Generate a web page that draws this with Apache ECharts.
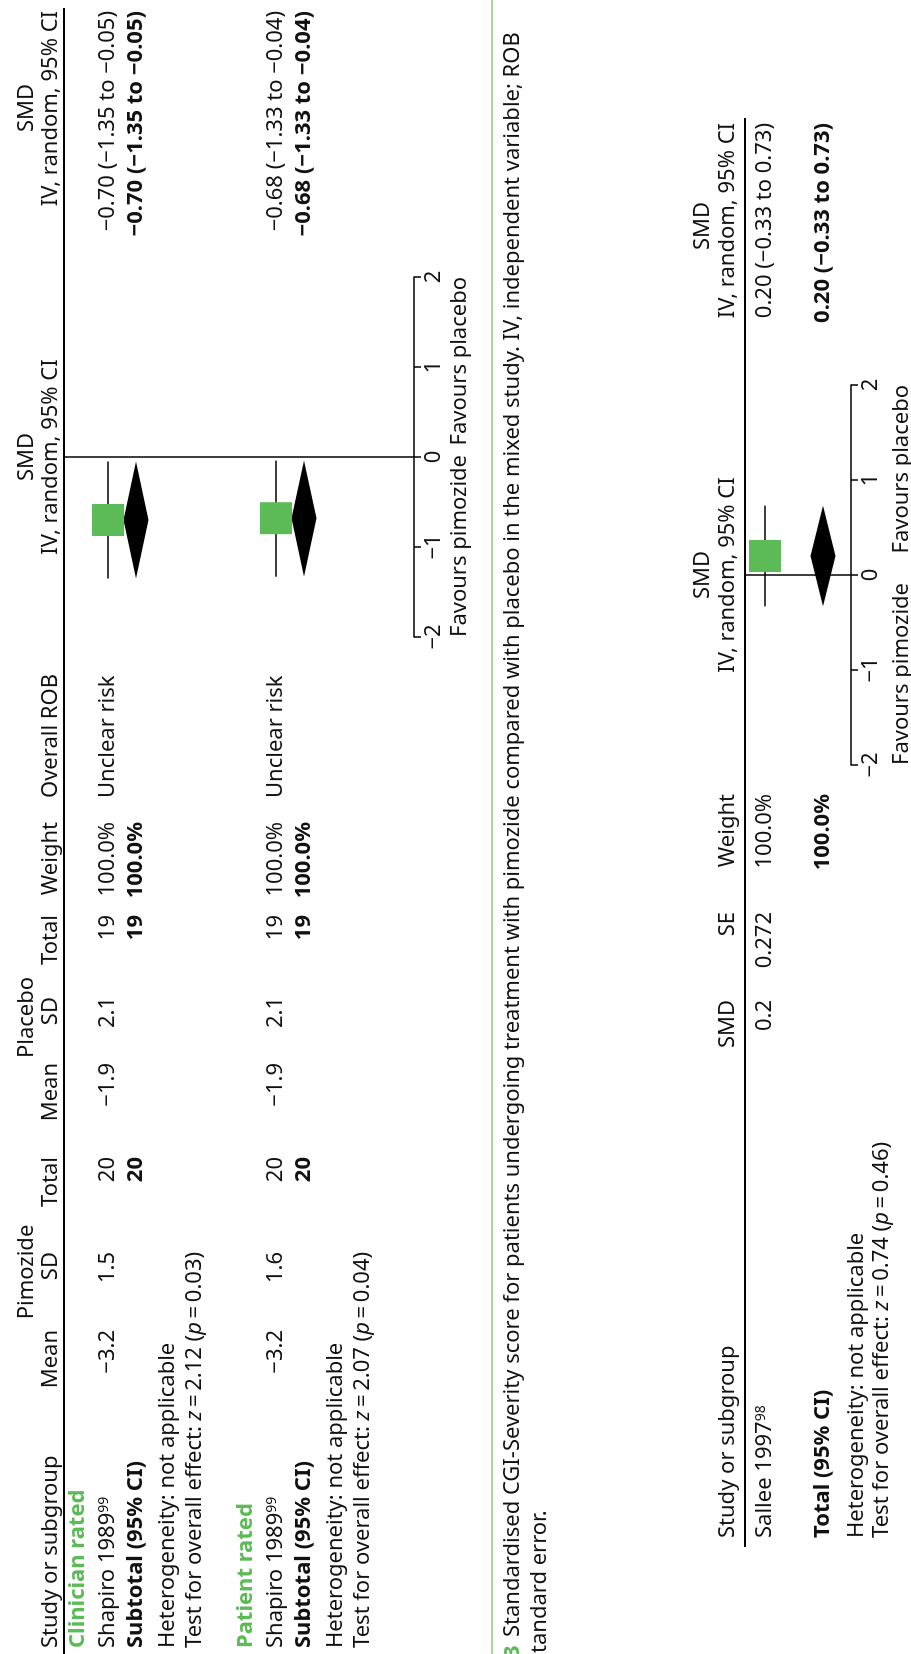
<!DOCTYPE html>
<html>
<head>
<meta charset="utf-8">
<script src="https://cdn.jsdelivr.net/npm/echarts@6/dist/echarts.min.js"></script>
<style>
  html, body { margin: 0; padding: 0; width: 911px; height: 1654px; overflow: hidden; background: #fff; }
  #wrap { position: absolute; left: 0; top: 0; width: 1654px; height: 911px;
          transform-origin: 0 0; transform: translate(0, 1654px) rotate(-90deg); }
</style>
</head>
<body>
<div id="wrap"></div>
<script>
// ---------------- DATA (panel 1: clinician / patient rated) ----------------
const subgroups   = ['Clinician rated', 'Patient rated'];
const studyNames  = ['Shapiro 1989', 'Shapiro 1989'];
const studyRefs   = ['99', '99'];
const pimMean     = [-3.2, -3.2];
const pimSD       = [1.5, 1.6];
const pimTotal    = [20, 20];
const plaMean     = [-1.9, -1.9];
const plaSD       = [2.1, 2.1];
const plaTotal    = [19, 19];
const weights     = [100.0, 100.0];
const robLabels   = ['Unclear risk', 'Unclear risk'];
const studySMD    = [-0.70, -0.68];
const studyLo     = [-1.35, -1.33];
const studyHi     = [-0.05, -0.04];
const subSMD      = [-0.70, -0.68];
const subLo       = [-1.35, -1.33];
const subHi       = [-0.05, -0.04];
const subZ        = [2.12, 2.07];
const subP        = [0.03, 0.04];
const axisTicks   = [-2, -1, 0, 1, 2];

// ---------------- DATA (panel 2: mixed study) ----------------
const study2Names = ['Sallee 1997'];
const study2Refs  = ['98'];
const study2SMD   = [0.2];
const study2SE    = [0.272];
const study2W     = [100.0];
const study2Lo    = [-0.33];
const study2Hi    = [0.73];
const total2SMD   = [0.20];
const total2Lo    = [-0.33];
const total2Hi    = [0.73];
const total2W     = [100.0];
const total2Z     = [0.74];
const total2P     = [0.46];

// ---------------- LAYOUT (unrotated frame: u = along text, v = across) ----------------
const FONT = 'Noto Sans';
const FS = 22;
const GREEN = '#5DBB57';
const INK = '#111111';
const L1 = { headTop: 27, headBot: 51, line: 64, axis: 414, tickLbl: 437, fav: 460,
             u0: 1017, u1: 1377,
             groups: [ { label: 78, study: 108, sub: 136, het: 168, test: 195 },
                       { label: 246, study: 276, sub: 304, het: 336, test: 363 } ] };
const COL1 = { name: 6, pimMean: 324, pimSD: 402, pimTot: 497, plaMean: 591, plaSD: 657,
               plaTot: 739, weight: 832, rob: 856, ci: 1643, ciHeadC: 1546 };
const L2 = { headTop: 703, headBot: 728, line: 745, axis: 851, tickLbl: 870, fav: 902,
             u0: 889, u1: 1269, study: 765, total: 823, het: 857, test: 882 };
const COL2 = { name: 116, smd: 654, se: 742, weight: 860, ci: 1531, ciHeadC: 1428 };
const CAP = { line: 492, l1: 513, l2: 540 };

const minus = s => String(s).replace(/-/g, '\u2212');
const f2 = x => minus(x.toFixed(2));
const ciText = (e, lo, hi) => f2(e) + ' (' + f2(lo) + ' to ' + f2(hi) + ')';
const RICH = {
  s: { fontFamily: FONT, fontSize: 14, verticalAlign: 'top', lineHeight: 14 },
  i: { fontFamily: FONT, fontSize: FS, fontStyle: 'italic' },
  g: { fontFamily: FONT, fontSize: FS, fontWeight: 'bold', fill: GREEN, color: GREEN }
};

const G = [];
function txt(u, v, text, o) {
  o = o || {};
  const align = o.align || 'left';
  G.push({
    type: 'text', x: u, y: v, z: 10, silent: true,
    style: {
      text: text, fill: o.color || INK, fontFamily: FONT, fontSize: o.size || FS,
      fontWeight: o.bold ? 'bold' : 'normal',
      align: align, verticalAlign: 'middle', textAlign: align, textVerticalAlign: 'middle',
      rich: RICH
    }
  });
}
function hline(v, ua, ub, color, w) {
  G.push({ type: 'line', z: 5, silent: true,
    shape: { x1: ua, y1: v, x2: ub, y2: v }, style: { stroke: color, lineWidth: w } });
}
const zp = (z, p) => 'Test for overall effect: {i|z}\u2009=\u2009' + z.toFixed(2) +
                     ' ({i|p}\u2009=\u2009' + p.toFixed(2) + ')';

// ---- panel 1 header ----
txt((COL1.pimMean - 57 + COL1.pimTot) / 2, L1.headTop, 'Pimozide', { align: 'center' });
txt((COL1.plaMean - 57 + COL1.plaTot) / 2, L1.headTop, 'Placebo', { align: 'center' });
txt((L1.u0 + L1.u1) / 2, L1.headTop, 'SMD', { align: 'center' });
txt(COL1.ciHeadC, L1.headTop, 'SMD', { align: 'center' });
txt(COL1.name, L1.headBot, 'Study or subgroup');
txt(COL1.pimMean, L1.headBot, 'Mean', { align: 'right' });
txt(COL1.pimSD, L1.headBot, 'SD', { align: 'right' });
txt(COL1.pimTot, L1.headBot, 'Total', { align: 'right' });
txt(COL1.plaMean, L1.headBot, 'Mean', { align: 'right' });
txt(COL1.plaSD, L1.headBot, 'SD', { align: 'right' });
txt(COL1.plaTot, L1.headBot, 'Total', { align: 'right' });
txt(COL1.weight, L1.headBot, 'Weight', { align: 'right' });
txt(COL1.rob, L1.headBot, 'Overall ROB');
txt((L1.u0 + L1.u1) / 2, L1.headBot, 'IV, random, 95% CI', { align: 'center' });
txt(COL1.ci, L1.headBot, 'IV, random, 95% CI', { align: 'right' });
hline(L1.line, 0, 1646, '#000', 2);

// ---- panel 1 rows ----
subgroups.forEach((sg, i) => {
  const r = L1.groups[i];
  txt(COL1.name, r.label, sg, { bold: true, color: GREEN });
  txt(COL1.name, r.study, studyNames[i] + '{s|' + studyRefs[i] + '}');
  txt(COL1.pimMean, r.study, minus(pimMean[i]), { align: 'right' });
  txt(COL1.pimSD, r.study, String(pimSD[i]), { align: 'right' });
  txt(COL1.pimTot, r.study, String(pimTotal[i]), { align: 'right' });
  txt(COL1.plaMean, r.study, minus(plaMean[i]), { align: 'right' });
  txt(COL1.plaSD, r.study, String(plaSD[i]), { align: 'right' });
  txt(COL1.plaTot, r.study, String(plaTotal[i]), { align: 'right' });
  txt(COL1.weight, r.study, weights[i].toFixed(1) + '%', { align: 'right' });
  txt(COL1.rob, r.study, robLabels[i]);
  txt(COL1.ci, r.study, ciText(studySMD[i], studyLo[i], studyHi[i]), { align: 'right' });
  txt(COL1.name, r.sub, 'Subtotal (95% CI)', { bold: true });
  txt(COL1.pimTot, r.sub, String(pimTotal[i]), { align: 'right', bold: true });
  txt(COL1.plaTot, r.sub, String(plaTotal[i]), { align: 'right', bold: true });
  txt(COL1.weight, r.sub, weights[i].toFixed(1) + '%', { align: 'right', bold: true });
  txt(COL1.ci, r.sub, ciText(subSMD[i], subLo[i], subHi[i]), { align: 'right', bold: true });
  txt(COL1.name, r.het, 'Heterogeneity: not applicable');
  txt(COL1.name, r.test, zp(subZ[i], subP[i]));
});
txt(L1.u0, L1.fav, 'Favours pimozide');
txt(L1.u1, L1.fav, 'Favours placebo', { align: 'right' });

// ---- caption ----
G.push({ type: 'line', z: 5, silent: true, shape: { x1: 0, y1: CAP.line, x2: 1654, y2: CAP.line },
         style: { stroke: '#A9D79C', lineWidth: 2 } });
txt(-4, CAP.l1, '3', { bold: true, color: GREEN });
txt(17, CAP.l1, 'Standardised CGI-Severity score for patients undergoing treatment with pimozide compared with placebo in the mixed study. IV, independent variable; ROB');
txt(1, CAP.l2, 'tandard error.');

// ---- panel 2 ----
txt((L2.u0 + L2.u1) / 2, L2.headTop, 'SMD', { align: 'center' });
txt(COL2.ciHeadC, L2.headTop, 'SMD', { align: 'center' });
txt(COL2.name, L2.headBot, 'Study or subgroup');
txt(COL2.smd, L2.headBot, 'SMD', { align: 'right' });
txt(COL2.se, L2.headBot, 'SE', { align: 'right' });
txt(COL2.weight, L2.headBot, 'Weight', { align: 'right' });
txt((L2.u0 + L2.u1) / 2, L2.headBot, 'IV, random, 95% CI', { align: 'center' });
txt(COL2.ci, L2.headBot, 'IV, random, 95% CI', { align: 'right' });
hline(L2.line, 107, 1536, '#000', 2);
study2Names.forEach((n, i) => {
  txt(COL2.name, L2.study, n + '{s|' + study2Refs[i] + '}');
  txt(COL2.smd, L2.study, minus(study2SMD[i]), { align: 'right' });
  txt(COL2.se, L2.study, String(study2SE[i]), { align: 'right' });
  txt(COL2.weight, L2.study, study2W[i].toFixed(1) + '%', { align: 'right' });
  txt(COL2.ci, L2.study, ciText(study2SMD[i], study2Lo[i], study2Hi[i]), { align: 'right' });
});
txt(COL2.name, L2.total, 'Total (95% CI)', { bold: true });
txt(COL2.weight, L2.total, total2W[0].toFixed(1) + '%', { align: 'right', bold: true });
txt(COL2.ci, L2.total, ciText(total2SMD[0], total2Lo[0], total2Hi[0]), { align: 'right', bold: true });
txt(COL2.name, L2.het, 'Heterogeneity: not applicable');
txt(COL2.name, L2.test, zp(total2Z[0], total2P[0]));
txt(L2.u0, L2.fav, 'Favours pimozide');
txt(L2.u1, L2.fav, 'Favours placebo', { align: 'right' });

// ---------------- forest series ----------------
const W = 1654, H = 911;
function xAx(gi) {
  return {
    gridIndex: gi, type: 'value', min: axisTicks[0], max: axisTicks[axisTicks.length - 1], interval: 1,
    axisLine: { show: true, lineStyle: { color: '#000', width: 1.5 } },
    axisTick: { show: true, inside: false, length: 7, lineStyle: { color: '#000', width: 1.5 } },
    splitLine: { show: false },
    axisLabel: { show: true, margin: 9, fontFamily: FONT, fontSize: FS, color: INK,
                 formatter: v => minus(v) }
  };
}
function yAx(gi, L) {
  return { gridIndex: gi, type: 'value', min: L.line, max: L.axis, inverse: true, show: false };
}
const ciRender = (p, api) => {
  const a = api.coord([api.value(0), api.value(2)]);
  const b = api.coord([api.value(1), api.value(2)]);
  return { type: 'line', shape: { x1: a[0], y1: a[1], x2: b[0], y2: b[1] },
           style: { stroke: '#000', lineWidth: 1.5 } };
};
const diamondRender = (p, api) => {
  const r = api.value(3), h = 12.5;
  const c = api.coord([api.value(0), r]);
  const lo = api.coord([api.value(1), r]);
  const hi = api.coord([api.value(2), r]);
  return { type: 'polygon', shape: { points: [[lo[0], c[1]], [c[0], c[1] - h], [hi[0], c[1]], [c[0], c[1] + h]] },
           style: { fill: '#000' } };
};
const zeroLine = {
  silent: true, symbol: ['none', 'none'], label: { show: false },
  lineStyle: { color: '#000', width: 1.5, type: 'solid' }, data: [{ xAxis: 0 }]
};

const series = [
  // panel 1
  { type: 'custom', xAxisIndex: 0, yAxisIndex: 0, renderItem: ciRender, z: 2,
    data: studySMD.map((s, i) => [studyLo[i], studyHi[i], L1.groups[i].study]), markLine: zeroLine },
  { type: 'scatter', xAxisIndex: 0, yAxisIndex: 0, symbol: 'rect', symbolSize: 32, z: 3,
    itemStyle: { color: GREEN, opacity: 1 }, silent: true,
    data: studySMD.map((s, i) => [s, L1.groups[i].study]) },
  { type: 'custom', xAxisIndex: 0, yAxisIndex: 0, renderItem: diamondRender, z: 3,
    data: subSMD.map((s, i) => [s, subLo[i], subHi[i], L1.groups[i].sub]) },
  // panel 2
  { type: 'custom', xAxisIndex: 1, yAxisIndex: 1, renderItem: ciRender, z: 2,
    data: study2SMD.map((s, i) => [study2Lo[i], study2Hi[i], L2.study]), markLine: zeroLine },
  { type: 'scatter', xAxisIndex: 1, yAxisIndex: 1, symbol: 'rect', symbolSize: 32, z: 3,
    itemStyle: { color: GREEN, opacity: 1 }, silent: true,
    data: study2SMD.map((s, i) => [s, L2.study]) },
  { type: 'custom', xAxisIndex: 1, yAxisIndex: 1, renderItem: diamondRender, z: 3,
    data: total2SMD.map((s, i) => [s, total2Lo[i], total2Hi[i], L2.total]) }
];

const chart = echarts.init(document.getElementById('wrap'), null, { renderer: 'canvas', width: W, height: H });
chart.setOption({
  animation: false,
  backgroundColor: '#fff',
  textStyle: { fontFamily: FONT },
  grid: [
    { left: L1.u0, width: L1.u1 - L1.u0, top: L1.line, height: L1.axis - L1.line, containLabel: false },
    { left: L2.u0, width: L2.u1 - L2.u0, top: L2.line, height: L2.axis - L2.line, containLabel: false }
  ],
  xAxis: [xAx(0), xAx(1)],
  yAxis: [yAx(0, L1), yAx(1, L2)],
  series: series,
  graphic: { elements: G }
});
</script>
</body>
</html>
